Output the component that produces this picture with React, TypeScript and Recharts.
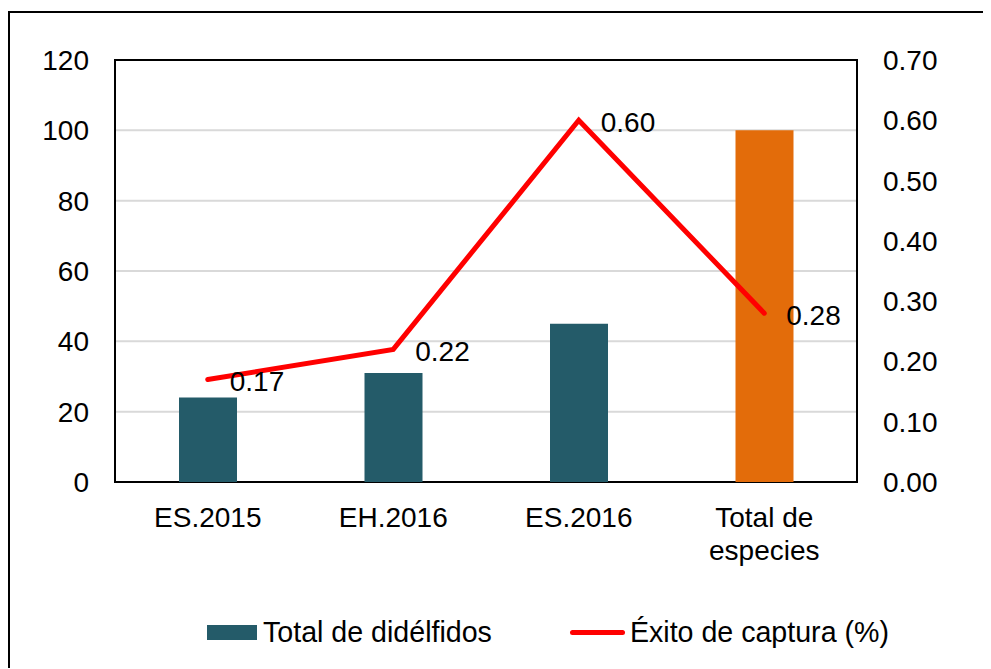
import React from "react";
import {
  ComposedChart,
  Bar,
  Line,
  XAxis,
  YAxis,
  CartesianGrid,
  Legend,
  LabelList,
  Cell,
  ReferenceArea,
} from "recharts";

const categories = ["ES.2015", "EH.2016", "ES.2016", "Total de especies"];
const didelfidos = [24, 31, 45, 100];
const exitoCaptura = [0.17, 0.22, 0.6, 0.28];
const leftTicks = [0, 20, 40, 60, 80, 100, 120];
const rightTicks = [0, 0.1, 0.2, 0.3, 0.4, 0.5, 0.6, 0.7];

const barName = "Total de didélfidos";
const lineName = "Éxito de captura (%)";

const data = categories.map((cat, i) => ({
  cat,
  didelfidos: didelfidos[i],
  exito: exitoCaptura[i],
}));

const FONT = "'Liberation Sans', Arial, sans-serif";
const TEAL = "#245B69";
const ORANGE = "#E36C0A";
const RED = "#FF0000";
const FS = 28;

let measureCtx: CanvasRenderingContext2D | null = null;
function measure(s: string): number {
  if (!measureCtx && typeof document !== "undefined") {
    measureCtx = document.createElement("canvas").getContext("2d");
  }
  if (!measureCtx) return s.length * FS * 0.55;
  measureCtx.font = `${FS}px ${FONT}`;
  return measureCtx.measureText(s).width;
}

function wrap(label: string, maxWidth: number): string[] {
  const words = label.split(" ");
  const lines: string[] = [];
  let cur = "";
  for (const w of words) {
    const next = cur ? cur + " " + w : w;
    if (cur && measure(next) > maxWidth) {
      lines.push(cur);
      cur = w;
    } else {
      cur = next;
    }
  }
  if (cur) lines.push(cur);
  return lines;
}

const XTick = (props: any) => {
  const { x, y, payload } = props;
  const lines = wrap(String(payload.value), 160);
  return (
    <text
      x={x}
      y={y}
      textAnchor="middle"
      fontSize={FS}
      fontFamily={FONT}
      fill="#000"
    >
      {lines.map((l, i) => (
        <tspan key={i} x={x} dy={i === 0 ? "0.71em" : "1.18em"}>
          {l}
        </tspan>
      ))}
    </text>
  );
};

const PointLabel = (props: any) => {
  const { x, y, value } = props;
  return (
    <text
      x={x + 22}
      y={y + 2}
      dy="0.355em"
      fontSize={FS}
      fontFamily={FONT}
      fill="#000"
      textAnchor="start"
    >
      {Number(value).toFixed(2)}
    </text>
  );
};

const LegendContent = () => (
  <div
    style={{
      height: 40,
      display: "flex",
      alignItems: "center",
      paddingLeft: 197,
      fontFamily: FONT,
      fontSize: 28.6,
      color: "#000",
      whiteSpace: "nowrap",
    }}
  >
    <span style={{ display: "inline-block", width: 50, height: 15, background: TEAL, marginRight: 6 }} />
    <span>{barName}</span>
    <span
      style={{
        display: "inline-block",
        width: 55,
        height: 5,
        borderRadius: 3,
        background: RED,
        marginLeft: 78,
        marginRight: 5,
      }}
    />
    <span>{lineName}</span>
  </div>
);

export default function App() {
  return (
    <div style={{ paddingTop: 3 }}>
      <div
        style={{
          width: 981,
          height: 655,
          borderTop: "2px solid #000",
          borderLeft: "2px solid #000",
          fontFamily: FONT,
          background: "#fff",
        }}
      >
        <ComposedChart
          width={981}
          height={655}
          data={data}
          margin={{ top: 47, right: 0, bottom: 16, left: 0 }}
          style={{ fontFamily: FONT }}
        >
          <CartesianGrid
            yAxisId="left"
            horizontal={true}
            vertical={false}
            stroke="#d9d9d9"
            strokeWidth={2}
          />
          <XAxis
            dataKey="cat"
            height={130}
            axisLine={false}
            tickLine={false}
            tickSize={0}
            tickMargin={25}
            interval={0}
            tick={<XTick />}
          />
          <YAxis
            yAxisId="left"
            orientation="left"
            width={105}
            domain={[0, 120]}
            ticks={leftTicks}
            axisLine={false}
            tickLine={false}
            tickSize={0}
            tickMargin={26}
            tick={{ fontSize: FS, fill: "#000", fontFamily: FONT }}
            interval={0}
          />
          <YAxis
            yAxisId="right"
            orientation="right"
            width={134}
            domain={[0, 0.7]}
            ticks={rightTicks}
            axisLine={false}
            tickLine={false}
            tickSize={0}
            tickMargin={26}
            tickFormatter={(v: number) => v.toFixed(2)}
            tick={{ fontSize: FS, fill: "#000", fontFamily: FONT, textAnchor: "start" }}
            interval={0}
          />
          <Bar
            yAxisId="left"
            dataKey="didelfidos"
            name={barName}
            barSize={58}
            fill={TEAL}
            isAnimationActive={false}
          >
            {data.map((d, i) => (
              <Cell key={i} fill={d.cat === "Total de especies" ? ORANGE : TEAL} />
            ))}
          </Bar>
          <Line
            yAxisId="right"
            dataKey="exito"
            name={lineName}
            type="linear"
            stroke={RED}
            strokeWidth={5}
            strokeLinecap="round"
            dot={false}
            activeDot={false}
            isAnimationActive={false}
          >
            <LabelList dataKey="exito" content={<PointLabel />} />
          </Line>
          <ReferenceArea
            yAxisId="left"
            y1={0}
            y2={120}
            fill="none"
            stroke="#000"
            strokeWidth={2}
            ifOverflow="visible"
          />
          <Legend verticalAlign="bottom" content={<LegendContent />} />
        </ComposedChart>
      </div>
    </div>
  );
}
